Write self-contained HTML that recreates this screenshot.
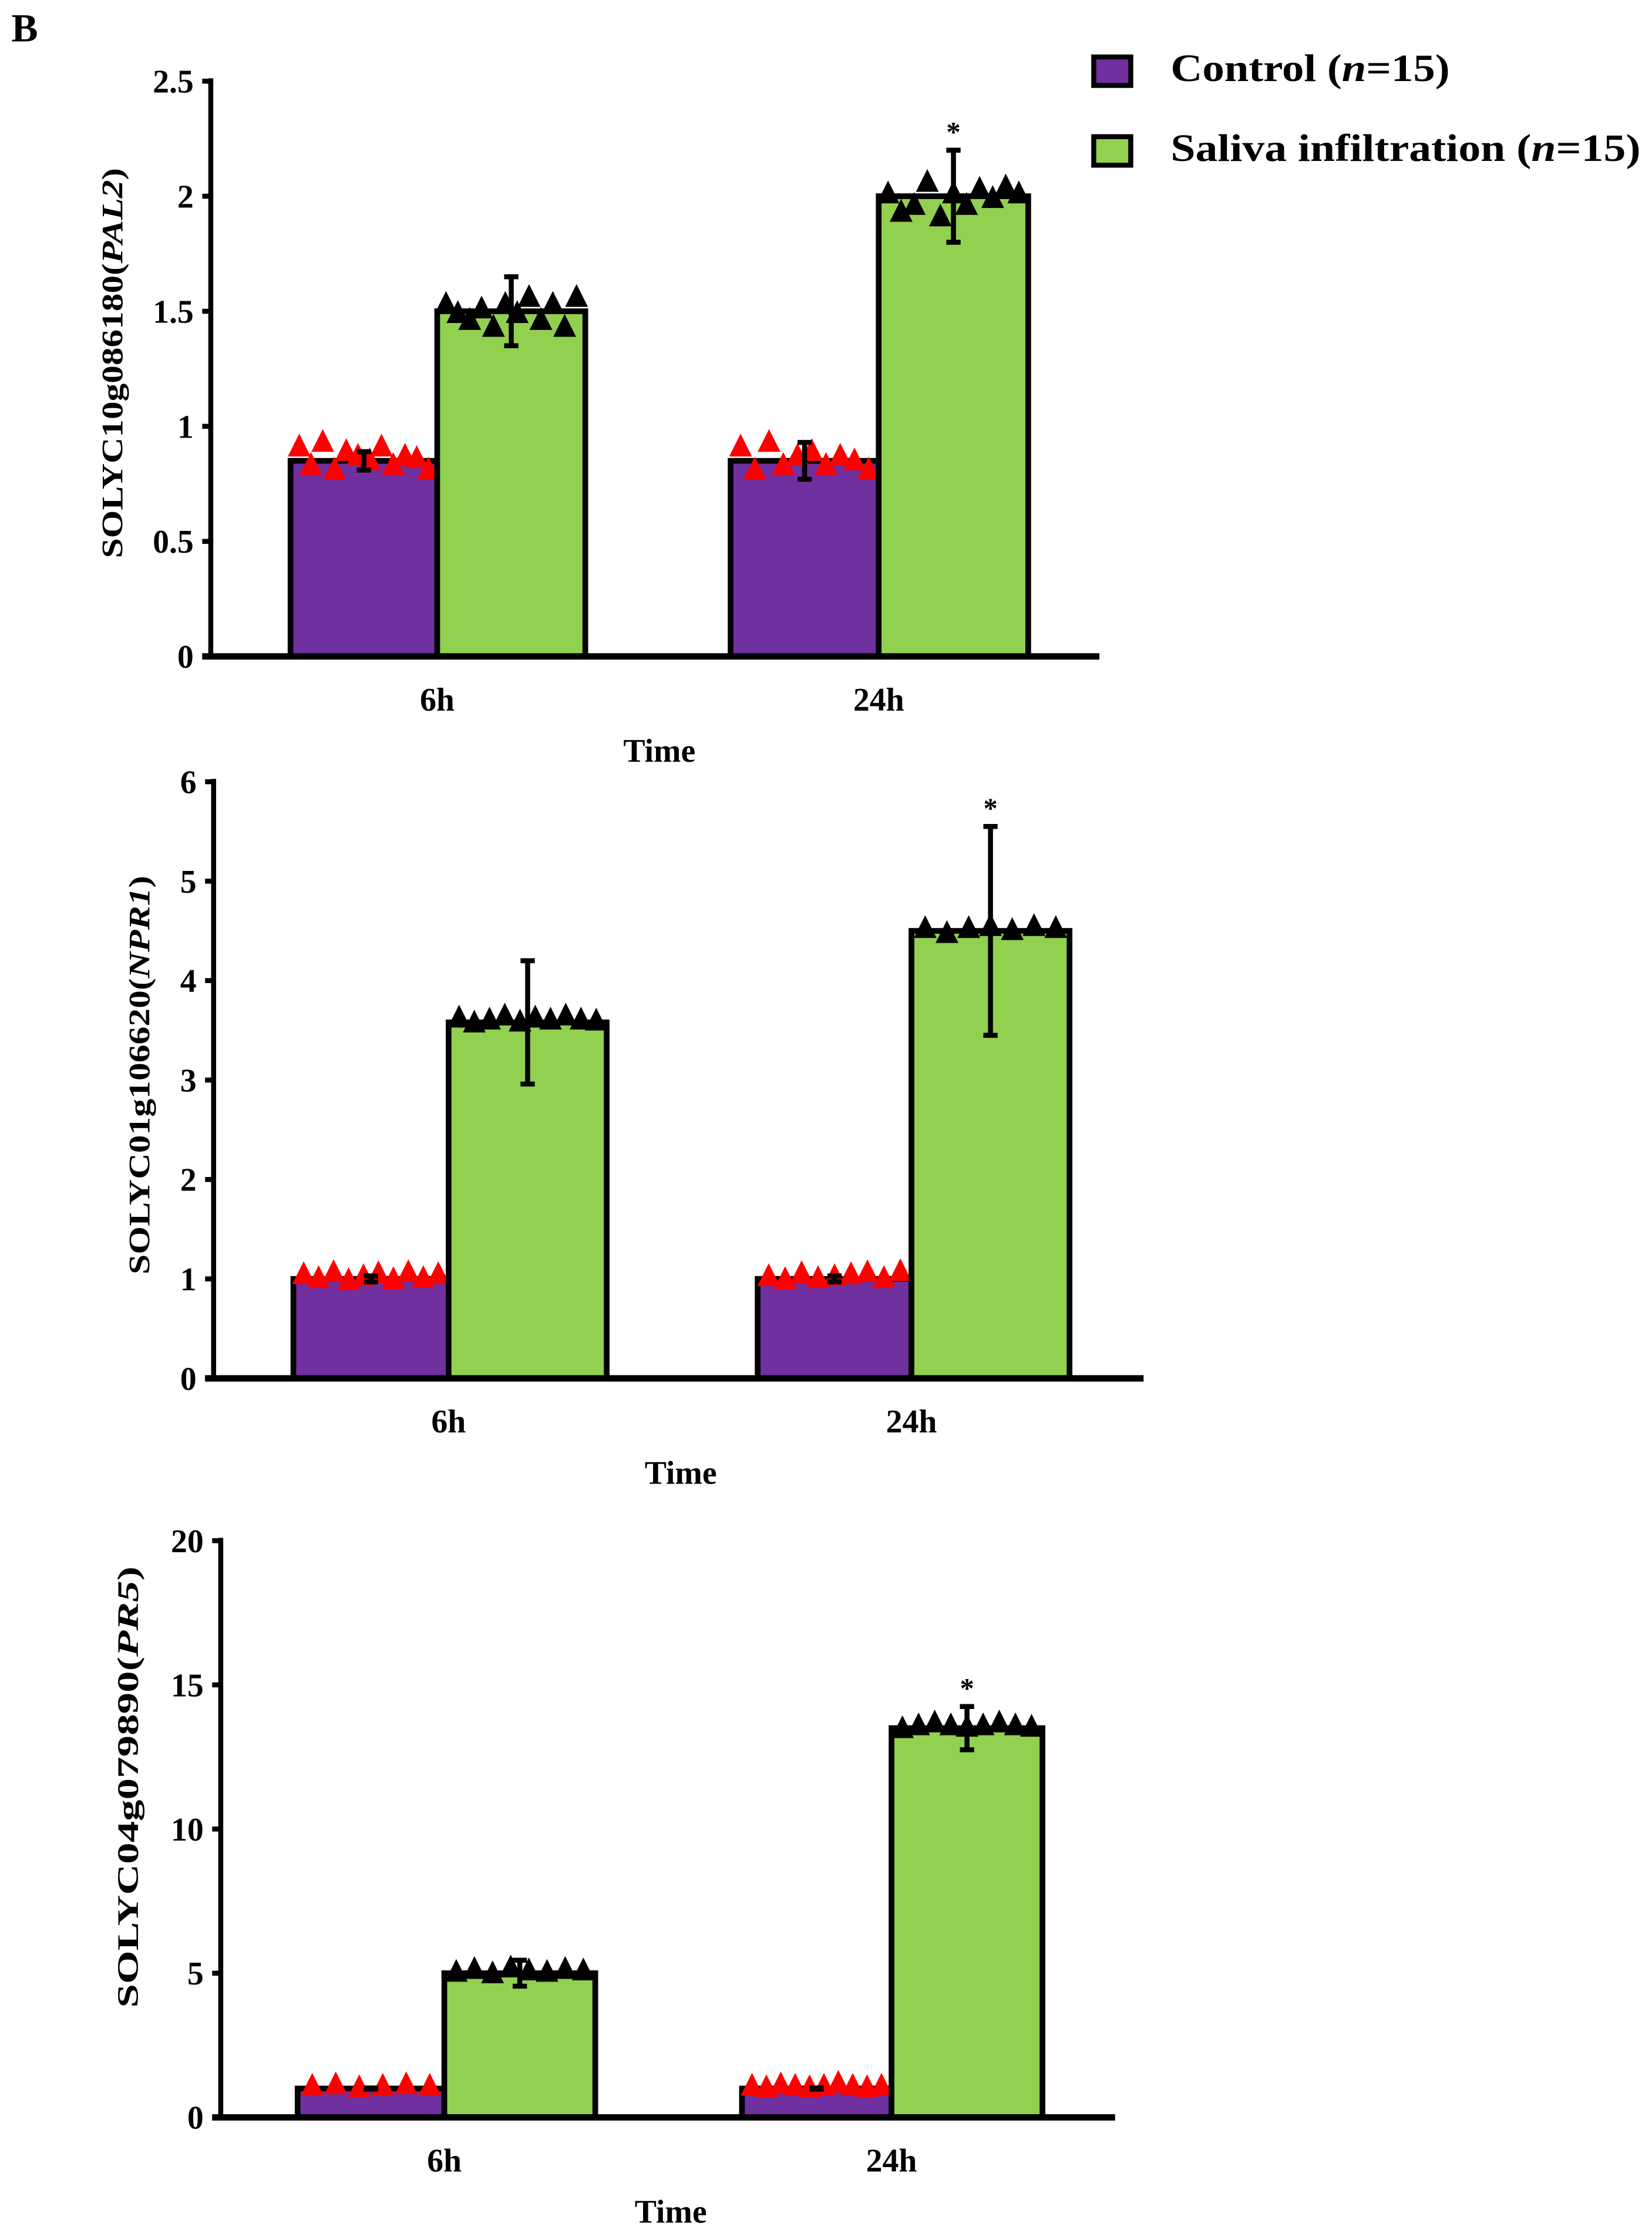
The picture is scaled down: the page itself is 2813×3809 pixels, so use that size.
<!DOCTYPE html>
<html><head><meta charset="utf-8"><style>
html,body{margin:0;padding:0;background:#fff;}
svg{display:block;}
text{font-family:"Liberation Serif",serif;font-weight:bold;fill:#000;}
</style></head><body>
<svg id="chart" width="2813" height="3809" viewBox="0 0 1160 1571" preserveAspectRatio="none" xmlns="http://www.w3.org/2000/svg">
<text x="8" y="29" font-size="28">B</text>
<g>
<rect x="768" y="40" width="26" height="20" fill="#7030a0" stroke="#000" stroke-width="3.5"/>
<text x="822" y="57" font-size="27" textLength="196" lengthAdjust="spacingAndGlyphs">Control (<tspan font-style="italic">n</tspan>=15)</text>
<rect x="768" y="96" width="26" height="20" fill="#92d050" stroke="#000" stroke-width="3.5"/>
<text x="822" y="113" font-size="27" textLength="330" lengthAdjust="spacingAndGlyphs">Saliva infiltration  (<tspan font-style="italic">n</tspan>=15)</text>
</g>
</svg>
<script>
const categories = ["6h", "24h"];
const p1Control = [0.85, 0.85], p1ControlErr = [0.04, 0.08];
const p1Saliva = [1.5, 2.0], p1SalivaErr = [0.15, 0.2];
const p1CtrlPts = [[0.9,0.82,0.92,0.8,0.88,0.86,0.84,0.9,0.82,0.86,0.85,0.8],[0.9,0.8,0.92,0.82,0.86,0.88,0.82,0.86,0.84,0.8]];
const p1SalPts = [[1.52,1.48,1.45,1.5,1.42,1.52,1.48,1.55,1.45,1.52,1.42,1.55],[2.0,1.92,1.95,2.05,1.9,2.0,1.95,2.02,1.98,2.03,2.0]];
const p2Control = [1.0, 1.0], p2ControlErr = [0.03, 0.03];
const p2Saliva = [3.58, 4.5], p2SalivaErr = [0.62, 1.05];
const p2CtrlPts = [[1.02,0.98,1.04,0.96,1.0,1.03,0.97,1.04,0.98,1.02],[1.0,0.97,1.03,0.98,1.0,1.02,1.04,0.98,1.05]];
const p2SalPts = [[3.6,3.55,3.58,3.62,3.56,3.6,3.58,3.62,3.58,3.57],[4.5,4.45,4.5,4.52,4.48,4.52,4.5]];
const p3Control = [1.0, 1.0], p3ControlErr = [0.02, 0.02];
const p3Saliva = [5.0, 13.5], p3SalivaErr = [0.45, 0.75];
const p3CtrlPts = [[1.0,1.05,0.95,1.0,1.05,1.0],[1.0,0.95,1.05,1.0,0.95,1.0,1.1,1.0,0.95,1.0]];
const p3SalPts = [[4.95,5.05,4.9,5.1,5.0,4.95,5.05,5.0],[13.4,13.5,13.6,13.5,13.45,13.5,13.6,13.5,13.45]];
const p1Ticks = ["0","0.5","1","1.5","2","2.5"], p1TickVals = [0,0.5,1,1.5,2,2.5];
const p2Ticks = ["0","1","2","3","4","5","6"], p2TickVals = [0,1,2,3,4,5,6];
const p3Ticks = ["0","5","10","15","20"], p3TickVals = [0,5,10,15,20];

const NS = "http://www.w3.org/2000/svg";
const svg = document.getElementById("chart");
function mk(tag, attrs, parent) {
  const e = document.createElementNS(NS, tag);
  for (const k in attrs) e.setAttribute(k, attrs[k]);
  (parent || svg).appendChild(e);
  return e;
}
function panel(cfg) {
  const g = mk("g", {});
  
  
  const max = cfg.tickVals[cfg.tickVals.length - 1];
  const y = v => cfg.y0 - (v / max) * (cfg.y0 - cfg.yTop);
  for (let i = 0; i < categories.length; i++) {
    const [cx0, cx1, sx1] = cfg.barX[i];
    const series = [
      {x0: cx0, x1: cx1, v: cfg.control[i], e: cfg.controlErr[i], pts: cfg.ctrlPts[i], fill: "#7030a0", pc: "#ff0000", nm: "control"},
      {x0: cx1, x1: sx1, v: cfg.saliva[i], e: cfg.salivaErr[i], pts: cfg.salPts[i], fill: "#92d050", pc: "#000", nm: "saliva"}
    ];
    series.forEach(s => {
      const r = mk("rect", {x: s.x0, y: y(s.v), width: s.x1 - s.x0, height: y(0) - y(s.v), fill: s.fill, stroke: "#000", "stroke-width": 4}, g);
      
      
      const n = s.pts.length;
      s.pts.forEach((pv, k) => {
        const px = s.x0 + 2 + (s.x1 - s.x0 - 4) * (k + 0.5) / n;
        const py = y(pv);
        const t = mk("polygon", {points: `${px},${py-11} ${px-8},${py+5} ${px+8},${py+5}`, fill: s.pc}, g);
        
        
      });
      const mx = (s.x0 + s.x1) / 2;
      const eg = mk("g", {stroke: "#000", "stroke-width": 3.5}, g);
      
      
      mk("line", {x1: mx, x2: mx, y1: y(s.v + s.e), y2: y(s.v - s.e)}, eg);
      mk("line", {x1: mx - 5, x2: mx + 5, y1: y(s.v + s.e), y2: y(s.v + s.e)}, eg);
      mk("line", {x1: mx - 5, x2: mx + 5, y1: y(s.v - s.e), y2: y(s.v - s.e)}, eg);
      if (s.nm === "saliva" && i === 1) {
        const st = mk("text", {x: mx, y: y(s.v + s.e) - 6, "font-size": 20, "text-anchor": "middle", "font-weight": "normal"}, g);
        st.textContent = "*";
        
        
      }
    });
    const lt = mk("text", {x: cfg.barX[i][1], y: cfg.y0 + 38, "font-size": 23, "text-anchor": "middle"}, g);
    lt.textContent = categories[i];
    
    
  }
  const ya = mk("line", {x1: cfg.ax, x2: cfg.ax, y1: cfg.yTop - 2, y2: cfg.y0 + 2, stroke: "#000", "stroke-width": 3.5}, g);
  
  
  const xa = mk("line", {x1: cfg.ax - 6, x2: cfg.axEnd, y1: cfg.y0, y2: cfg.y0, stroke: "#000", "stroke-width": 4.5}, g);
  
  
  cfg.tickVals.forEach((tv, k) => {
    mk("line", {x1: cfg.ax - 6, x2: cfg.ax, y1: y(tv), y2: y(tv), stroke: "#000", "stroke-width": 3.5}, g);
    const tt = mk("text", {x: cfg.ax - 12, y: y(tv) + 8, "font-size": 23, "text-anchor": "end"}, g);
    tt.textContent = cfg.ticks[k];
    
    
  });
  const xt = mk("text", {x: cfg.timeX, y: cfg.y0 + 74, "font-size": 23, "text-anchor": "middle"}, g);
  xt.textContent = "Time";
  
  
  const yt = mk("text", {transform: `translate(${cfg.ytX},${cfg.ytC}) rotate(-90)`, "font-size": 21, "text-anchor": "middle", textLength: cfg.ytLen, lengthAdjust: "spacingAndGlyphs"}, g);
  yt.innerHTML = cfg.gene + '(<tspan font-style="italic">' + cfg.geneName + '</tspan>)';
  
  
}
panel({name: "chart-pal2", ax: 148, axEnd: 772, yTop: 57, y0: 461, ticks: p1Ticks, tickVals: p1TickVals,
  barX: [[204, 307, 411], [513, 617, 722]], control: p1Control, controlErr: p1ControlErr, saliva: p1Saliva, salivaErr: p1SalivaErr,
  ctrlPts: p1CtrlPts, salPts: p1SalPts, timeX: 463, ytX: 86, ytC: 255, ytLen: 274, gene: "SOLYC10g086180", geneName: "PAL2"});
panel({name: "chart-npr1", ax: 150, axEnd: 803, yTop: 549, y0: 968, ticks: p2Ticks, tickVals: p2TickVals,
  barX: [[206, 315, 426], [532, 640, 751]], control: p2Control, controlErr: p2ControlErr, saliva: p2Saliva, salivaErr: p2SalivaErr,
  ctrlPts: p2CtrlPts, salPts: p2SalPts, timeX: 478, ytX: 105, ytC: 755, ytLen: 280, gene: "SOLYC01g106620", geneName: "NPR1"});
panel({name: "chart-pr5", ax: 155, axEnd: 783, yTop: 1082, y0: 1487, ticks: p3Ticks, tickVals: p3TickVals,
  barX: [[209, 312, 418], [521, 626, 732]], control: p3Control, controlErr: p3ControlErr, saliva: p3Saliva, salivaErr: p3SalivaErr,
  ctrlPts: p3CtrlPts, salPts: p3SalPts, timeX: 471, ytX: 97, ytC: 1255, ytLen: 310, gene: "SOLYC04g079890", geneName: "PR5"});
</script>
</body></html>
